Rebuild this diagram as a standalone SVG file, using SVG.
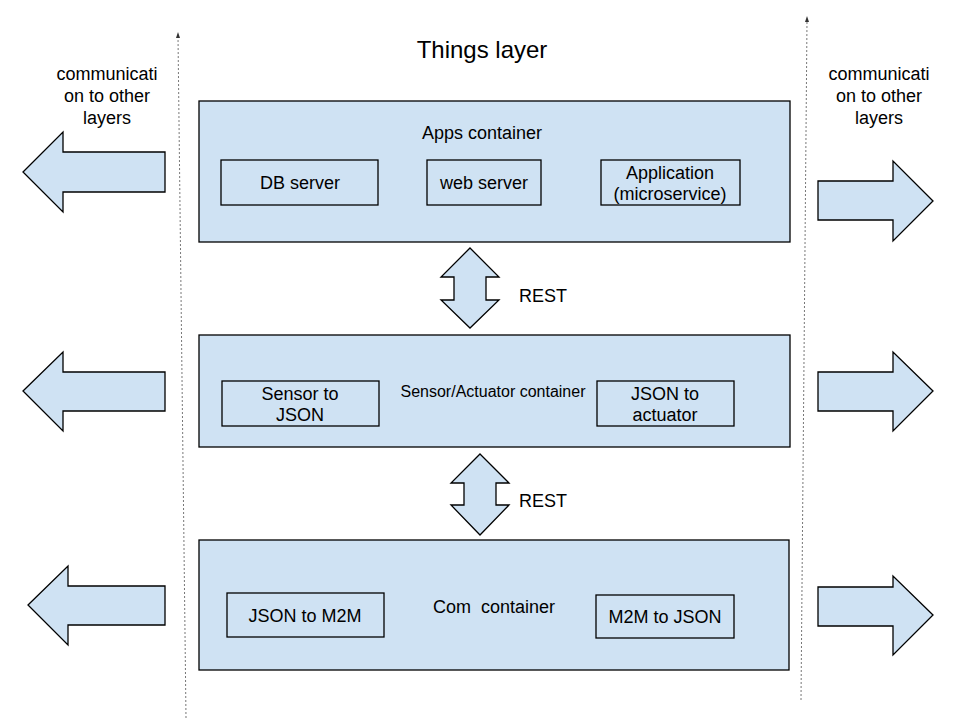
<svg xmlns="http://www.w3.org/2000/svg" width="960" height="720" viewBox="0 0 960 720">
<defs>
<style>
.box{fill:#cfe2f3;stroke:#000;stroke-width:1.3}
.t{font-family:"Liberation Sans",Arial,sans-serif;font-size:18px;fill:#000;text-anchor:middle}
.dot{stroke:#777;stroke-width:1;stroke-dasharray:2,2;fill:none}
</style>
</defs>
<rect width="960" height="720" fill="#fff"/>
<g id="guides">
<line class="dot" x1="186" y1="718" x2="178" y2="36"/>
<path d="M176,38 L178,32 L180,38 Z" fill="#333"/>
<line class="dot" x1="801" y1="700" x2="807" y2="20"/>
<path d="M805,22 L807,16 L809,22 Z" fill="#333"/>
</g>
<text class="t" x="482" y="58" style="font-size:24px">Things layer</text>
<g id="label-left">
<text class="t" x="107" y="80">communicati</text>
<text class="t" x="107" y="102">on to other</text>
<text class="t" x="107" y="124">layers</text>
</g>
<g id="label-right">
<text class="t" x="879" y="80">communicati</text>
<text class="t" x="879" y="102">on to other</text>
<text class="t" x="879" y="124">layers</text>
</g>
<g id="apps">
<rect class="box" x="199" y="101" width="591" height="141"/>
<text class="t" x="482" y="139">Apps container</text>
</g>
<g id="db"><rect class="box" x="221" y="160" width="157" height="45"/><text class="t" x="300" y="189">DB server</text></g>
<g id="web"><rect class="box" x="427" y="160" width="114" height="45"/><text class="t" x="484" y="189">web server</text></g>
<g id="app"><rect class="box" x="601" y="160" width="139" height="45"/><text class="t" x="670" y="179">Application</text><text class="t" x="670" y="200">(microservice)</text></g>
<g id="sensor">
<rect class="box" x="199" y="335" width="591" height="112"/>
<text class="t" x="493" y="397" style="font-size:16px">Sensor/Actuator container</text>
</g>
<g id="s2j"><rect class="box" x="222" y="381" width="157" height="45"/><text class="t" x="300" y="400">Sensor to</text><text class="t" x="300" y="421">JSON</text></g>
<g id="j2a"><rect class="box" x="597" y="381" width="137" height="45"/><text class="t" x="665" y="400">JSON to</text><text class="t" x="665" y="421">actuator</text></g>
<g id="com">
<rect class="box" x="199" y="540" width="590" height="130"/>
<text class="t" x="494" y="613" xml:space="preserve">Com  container</text>
</g>
<g id="j2m"><rect class="box" x="227" y="593" width="157" height="44"/><text class="t" x="305" y="622">JSON to M2M</text></g>
<g id="m2j"><rect class="box" x="596" y="595" width="138" height="43"/><text class="t" x="665" y="623">M2M to JSON</text></g>
<g id="connectors">
<path class="box" d="M470,248 L499,277 L486,277 L486,300 L499,300 L470,328 L441,300 L454,300 L454,277 L441,277 Z"/>
<text class="t" x="543" y="302">REST</text>
<path class="box" d="M480,454 L509,483 L496,483 L496,505 L509,505 L480,535 L451,505 L464,505 L464,483 L451,483 Z"/>
<text class="t" x="543" y="507">REST</text>
<path class="box" d="M23,172 L63,132 L63,152 L165,152 L165,192 L63,192 L63,212 Z"/>
<path class="box" d="M23,391 L63,352 L63,372 L165,372 L165,411 L63,411 L63,431 Z"/>
<path class="box" d="M28,605 L68,566 L68,586 L165,586 L165,625 L68,625 L68,645 Z"/>
<path class="box" d="M933,201 L893,161 L893,181 L818,181 L818,220 L893,220 L893,241 Z"/>
<path class="box" d="M933,391 L893,352 L893,372 L818,372 L818,411 L893,411 L893,431 Z"/>
<path class="box" d="M933,615 L893,576 L893,587 L818,587 L818,626 L893,626 L893,655 Z"/>
</g>
</svg>
